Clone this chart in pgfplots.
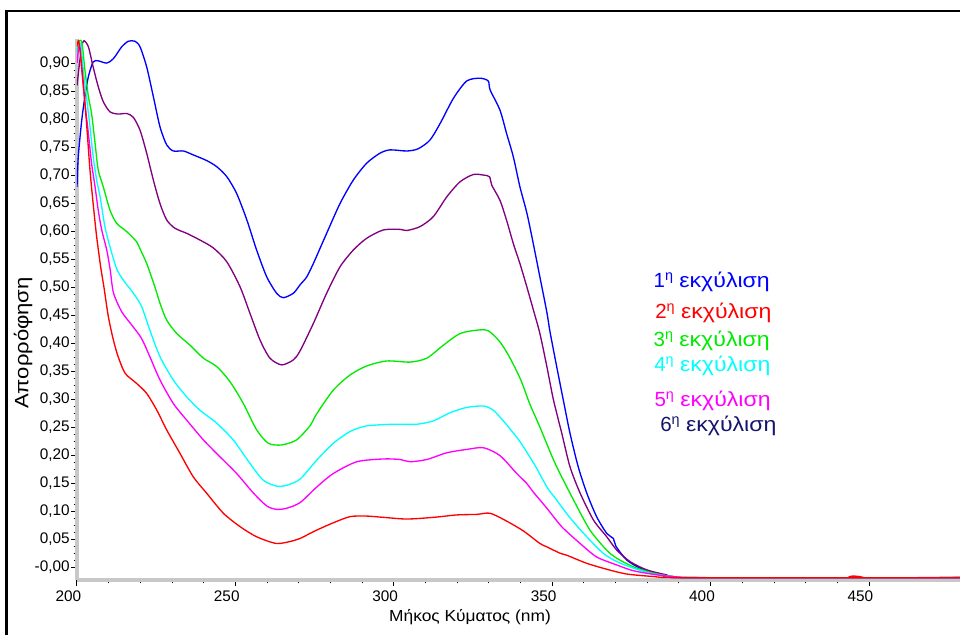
\documentclass[border=0pt]{standalone}
\usepackage{fontspec}
\setmainfont{Liberation Sans}
\usepackage{graphicx}
\usepackage{pgfplots}
\pgfplotsset{compat=1.18}
\definecolor{cBlue}{RGB}{0,0,255}
\definecolor{cPurple}{RGB}{128,0,128}
\definecolor{cGreen}{RGB}{0,235,0}
\definecolor{cCyan}{RGB}{0,255,255}
\definecolor{cMagenta}{RGB}{255,0,255}
\definecolor{cRed}{RGB}{255,0,0}
\definecolor{cNavy}{RGB}{20,20,110}
\definecolor{axisgray}{RGB}{200,200,200}
\newcommand{\gw}[1]{\scalebox{1.125}[1]{#1}}
\begin{document}
\begin{tikzpicture}
\useasboundingbox (0,0) rectangle (720pt,-476.25pt);
\begin{axis}[
  at={(57.75pt,-435pt)}, anchor=south west,
  scale only axis, width=662.25pt, height=405.75pt,
  xmin=200, xmax=478.7, ymin=-0.0232, ymax=0.943,
  axis x line=bottom, axis y line=left,
  axis line style={-, draw=axisgray, line width=3pt},
  xtick={200,250,300,350,400,450},
  xticklabels={200,250,300,350,400,450},
  minor x tick num=4,
  ytick={0,0.05,0.1,0.15,0.2,0.25,0.3,0.35,0.4,0.45,0.5,0.55,0.6,0.65,0.7,0.75,0.8,0.85,0.9},
  yticklabels={{-0,00},{0,05},{0,10},{0,15},{0,20},{0,25},{0,30},{0,35},{0,40},{0,45},{0,50},{0,55},{0,60},{0,65},{0,70},{0,75},{0,80},{0,85},{0,90}},
  minor y tick num=3,
  tick style={black, line width=0.75pt},
  tick align=outside,
  major tick length=4.5pt, minor tick length=2.5pt,
  ticklabel style={font=\fontsize{11.5}{13}\selectfont},
  xticklabel style={xshift=-6.5pt},
  yticklabel style={xshift=2.5pt},
  every axis plot/.append style={line width=1pt, no marks, smooth, tension=0.45},
]
% 1st extraction (blue)
\addplot[cBlue] coordinates {(200.0,0.679) (200.4,0.733) (201.5,0.798) (202.5,0.84) (203.6,0.876) (205.1,0.902) (206.7,0.904) (209.4,0.90) (211.5,0.908) (214.1,0.929) (216.2,0.939) (218.3,0.939) (219.9,0.929) (222,0.893) (224.1,0.84) (226.2,0.786) (228.3,0.754) (230.4,0.743) (233.6,0.743) (236.7,0.736) (240.9,0.726) (244.1,0.715) (247.3,0.697) (250.4,0.667) (253.6,0.62) (256.7,0.566) (259.9,0.518) (263,0.489) (265.1,0.481) (268.3,0.489) (270.4,0.504) (272.5,0.518) (274.6,0.542) (276.7,0.569) (278.8,0.596) (283,0.649) (287.2,0.691) (291.4,0.721) (295.6,0.739) (298.8,0.745) (304.1,0.743) (307.7,0.747) (311.4,0.7625) (314.6,0.792) (318.8,0.837) (323,0.868) (327.2,0.873) (329.8,0.868) (330.4,0.852) (333.5,0.816) (335.6,0.774) (337.7,0.733) (339.8,0.679) (342,0.632) (344,0.578) (346.1,0.518) (348.3,0.455) (349.3,0.42) (351.4,0.358) (353.5,0.298) (355.6,0.239) (358.2,0.179) (360.9,0.132) (364,0.09) (367.2,0.06) (369.3,0.051) (370.1,0.037) (373.5,0.0125) (377.7,-0.002) (381.9,-0.011) (388.2,-0.017) (395,-0.019) (478.7,-0.019)};
% 6th extraction (purple)
\addplot[cPurple] coordinates {(200,0.86) (200.8,0.90) (201.5,0.93) (202.2,0.94) (203.6,0.929) (205.1,0.893) (206.7,0.858) (208.3,0.831) (210.4,0.813) (213,0.809) (215.7,0.81) (217.8,0.803) (219.9,0.78) (222,0.739) (224.1,0.691) (226.2,0.649) (228.3,0.62) (230.9,0.605) (234.6,0.596) (238.8,0.584) (243,0.57) (247.3,0.545) (251.5,0.5) (254.6,0.453) (257.8,0.405) (260.9,0.373) (264.6,0.361) (268.3,0.37) (270.4,0.386) (274.6,0.435) (278.8,0.489) (283,0.536) (287.2,0.566) (291.4,0.587) (296.7,0.602) (302,0.603) (304.1,0.601) (308.3,0.608) (312.5,0.626) (316.7,0.661) (320.9,0.688) (325.1,0.701) (328.3,0.7) (330.2,0.697) (330.9,0.682) (333.5,0.655) (335.6,0.619) (337.7,0.578) (339.8,0.542) (342,0.5) (344,0.46) (346.1,0.417) (348.3,0.358) (350.4,0.298) (353,0.239) (355.6,0.179) (358.8,0.132) (363,0.084) (367.2,0.054) (370.4,0.03) (374.6,0.0095) (379.8,-0.005) (386.1,-0.014) (392,-0.019) (478.7,-0.019)};
% 3rd extraction (green)
\addplot[cGreen] coordinates {(200,0.92) (200.8,0.94) (201.6,0.935) (202.5,0.8875) (203.6,0.84) (204.6,0.81) (205.7,0.757) (206.7,0.709) (208.3,0.679) (210.4,0.6375) (212.5,0.614) (215.7,0.599) (218.8,0.581) (219.9,0.568) (222,0.542) (224.6,0.5) (226.2,0.471) (228.3,0.441) (231.5,0.417) (235.7,0.396) (239.9,0.373) (244.1,0.358) (248.3,0.331) (252.5,0.292) (256.7,0.245) (260.4,0.221) (264.6,0.218) (269.3,0.227) (273.5,0.252) (275.7,0.274) (280.9,0.316) (286.2,0.343) (291.4,0.359) (297.8,0.368) (305.1,0.366) (310.4,0.373) (315.6,0.396) (320.9,0.417) (326.2,0.423) (329.8,0.422) (333.5,0.402) (336.5,0.375) (340,0.335) (343,0.29) (346.1,0.25) (350.9,0.185) (356.7,0.12) (361.9,0.066) (367.2,0.030) (370.4,0.0155) (375.6,0.0005) (381.9,-0.011) (388,-0.017) (394,-0.019) (478.7,-0.019)};
% 4th extraction (cyan)
\addplot[cCyan] coordinates {(200,0.91) (200.7,0.935) (201.3,0.93) (202,0.8875) (203.1,0.834) (204.1,0.786) (205.1,0.733) (206.2,0.691) (207.3,0.661) (208.8,0.608) (210.4,0.572) (212.5,0.533) (214.6,0.5125) (217.8,0.489) (220.4,0.465) (223,0.423) (226.2,0.3755) (230.4,0.334) (234.6,0.304) (238.8,0.28) (244.1,0.257) (249.3,0.227) (254.6,0.185) (258.8,0.155) (263,0.1445) (266.2,0.146) (270.4,0.157) (275.7,0.191) (280.9,0.221) (286.2,0.242) (291.4,0.252) (299.8,0.255) (307.2,0.255) (312.5,0.261) (317.7,0.2755) (323,0.285) (328.3,0.2875) (331.4,0.28) (335,0.258) (339.8,0.224) (344.5,0.182) (348.3,0.143) (350.4,0.127) (355.6,0.088) (360.9,0.054) (366.1,0.0245) (370.4,0.0095) (375.6,-0.002) (381.9,-0.0125) (388,-0.017) (394,-0.019) (478.7,-0.019)};
% 5th extraction (magenta)
\addplot[cMagenta] coordinates {(200,0.90) (200.6,0.93) (201,0.925) (201.5,0.8875) (202.5,0.828) (203.6,0.774) (204.6,0.721) (205.7,0.679) (206.7,0.6375) (207.8,0.602) (209.4,0.566) (210.5,0.53) (211.5,0.49) (214.1,0.456) (217.3,0.432) (220.4,0.408) (223,0.3755) (226.2,0.334) (230.4,0.292) (234.6,0.2625) (239.9,0.227) (245.1,0.197) (250.4,0.167) (255.7,0.132) (259.9,0.109) (263,0.103) (266.2,0.105) (270.4,0.115) (275.7,0.143) (280.9,0.167) (288.3,0.188) (296.7,0.193) (302,0.192) (305.1,0.188) (310.4,0.192) (316.7,0.204) (323,0.21) (328.3,0.213) (333.5,0.199) (338.8,0.167) (342,0.149) (344,0.134) (348.3,0.105) (353,0.072) (358.8,0.042) (364,0.018) (370.4,0.0036) (375.6,-0.0066) (383,-0.014) (390,-0.018) (396,-0.019) (478.7,-0.019)};
% 2nd extraction (red)
\addplot[cRed] coordinates {(200,0.93) (200.5,0.94) (201.2,0.91) (202,0.864) (203.1,0.786) (204.1,0.709) (205.1,0.649) (206.2,0.59) (207.5,0.535) (208.5,0.5) (209.9,0.447) (211.5,0.405) (213,0.3755) (215.2,0.346) (218.8,0.328) (222,0.31) (225.2,0.28) (228.3,0.245) (232.5,0.203) (236.7,0.161) (240.9,0.132) (246.2,0.096) (251.5,0.072) (256.7,0.054) (263,0.042) (268.3,0.047) (270.4,0.051) (275.7,0.066) (280.9,0.079) (286.2,0.09) (291.4,0.091) (296.7,0.0887) (304.1,0.0857) (312.5,0.0887) (319.9,0.093) (326.2,0.094) (330.4,0.096) (335.6,0.082) (341,0.064) (346.1,0.042) (348.3,0.036) (352.5,0.0245) (354.6,0.021) (360.9,0.0066) (367.2,-0.004) (373.5,-0.0125) (382,-0.017) (390,-0.019) (444.5,-0.019) (445,-0.016) (445.5,-0.019) (478.7,-0.019)};
\end{axis}
\draw[black, line width=2pt] (5pt,-476.25pt) -- (5pt,-8.25pt) -- (720pt,-8.25pt);
\node[rotate=90, font=\fontsize{14.5}{16}\selectfont] at (17.25pt,-257.25pt) {\scalebox{1.14}[1]{Απορρόφηση}};
\node[font=\fontsize{12}{14}\selectfont] at (352.5pt,-462.75pt) {\scalebox{1.085}[1]{Μήκος Κύματος (nm)}};
\begin{scope}[every node/.style={anchor=base west, inner sep=0pt, font=\fontsize{15.4}{18}\selectfont}]
\node[text=cBlue] at (490pt,-215.5pt) {1\textsuperscript{η} \gw{εκχύλιση}};
\node[text=cRed] at (491.25pt,-238.7pt) {2\textsuperscript{η} \gw{εκχύλιση}};
\node[text=cGreen] at (490pt,-260pt) {3\textsuperscript{η} \gw{εκχύλιση}};
\node[text=cCyan] at (490.5pt,-278.8pt) {4\textsuperscript{η} \gw{εκχύλιση}};
\node[text=cMagenta] at (490.7pt,-305pt) {5\textsuperscript{η} \gw{εκχύλιση}};
\node[text=cNavy] at (495pt,-323.8pt) {6\textsuperscript{η} \gw{εκχύλιση}};
\end{scope}
\end{tikzpicture}
\end{document}
